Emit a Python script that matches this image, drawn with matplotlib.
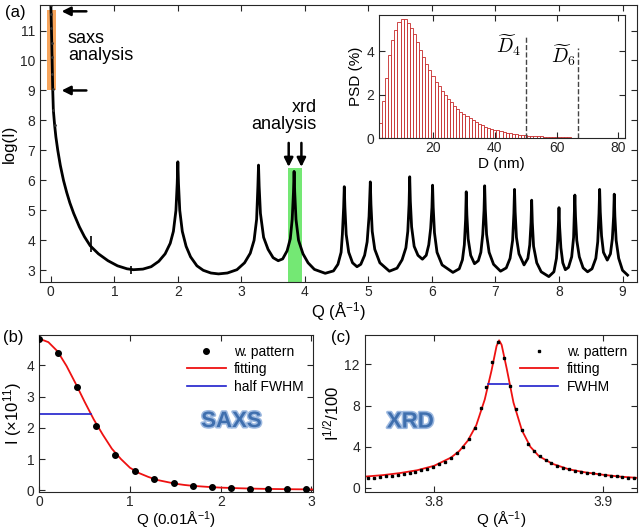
import matplotlib
matplotlib.use('Agg')
import matplotlib.pyplot as plt
import matplotlib.patheffects as pe

# ---- data ----
# (a) main pattern: Q (1/A) and log(I)
q_main = [0.000, 0.005, 0.010, 0.015, 0.020, 0.025, 0.030, 0.040, 0.060, 0.080,
          0.11, 0.15, 0.20, 0.25, 0.30, 0.36, 0.45, 0.53, 0.62, 0.75,
          0.90, 1.05, 1.20, 1.30, 1.45, 1.58, 1.70, 1.80, 1.88, 1.93,
          1.97, 1.99, 2.00, 2.01, 2.03, 2.07, 2.13, 2.20, 2.30, 2.40,
          2.52, 2.64, 2.78, 2.93, 3.05, 3.14, 3.20, 3.24, 3.26, 3.27,
          3.28, 3.30, 3.35, 3.42, 3.50, 3.58, 3.65, 3.72, 3.77, 3.80,
          3.82, 3.83, 3.84, 3.86, 3.90, 3.97, 4.05, 4.15, 4.32, 4.45,
          4.52, 4.57, 4.59, 4.61, 4.62, 4.63, 4.65, 4.69, 4.75, 4.82,
          4.88, 4.94, 4.98, 5.01, 5.03, 5.04, 5.06, 5.10, 5.18, 5.33,
          5.45, 5.53, 5.59, 5.62, 5.64, 5.65, 5.66, 5.68, 5.72, 5.78,
          5.85, 5.91, 5.95, 5.98, 6.00, 6.01, 6.02, 6.04, 6.08, 6.16,
          6.33, 6.43, 6.48, 6.51, 6.53, 6.54, 6.55, 6.57, 6.61, 6.67,
          6.73, 6.77, 6.80, 6.82, 6.83, 6.84, 6.86, 6.90, 6.97, 7.08,
          7.17, 7.23, 7.27, 7.29, 7.30, 7.31, 7.33, 7.37, 7.45, 7.51,
          7.54, 7.56, 7.57, 7.58, 7.60, 7.65, 7.72, 7.84, 7.92, 7.96,
          7.98, 7.99, 8.00, 8.01, 8.03, 8.06, 8.10, 8.15, 8.20, 8.23,
          8.24, 8.25, 8.26, 8.28, 8.32, 8.38, 8.45, 8.52, 8.58, 8.61,
          8.63, 8.64, 8.65, 8.67, 8.70, 8.76, 8.81, 8.84, 8.86, 8.87,
          8.88, 8.90, 8.94, 9.00, 9.08]
logI_main = [11.85, 11.55, 11.10, 10.60, 10.10, 9.55, 9.05, 8.35, 7.85, 7.45,
             7.00, 6.50, 6.00, 5.60, 5.25, 4.90, 4.45, 4.12, 3.82, 3.55,
             3.32, 3.15, 3.05, 3.02, 3.04, 3.12, 3.30, 3.55, 3.90, 4.30,
             5.00, 5.90, 6.62, 5.90, 5.00, 4.30, 3.80, 3.45, 3.15, 3.00,
             2.91, 2.88, 2.91, 3.02, 3.25, 3.57, 4.00, 4.70, 5.80, 6.51,
             5.80, 4.90, 4.10, 3.70, 3.42, 3.32, 3.38, 3.65, 4.05, 4.70,
             5.60, 6.30, 5.60, 4.70, 4.00, 3.55, 3.25, 3.03, 2.90, 2.98,
             3.20, 3.60, 4.20, 5.10, 5.79, 5.10, 4.20, 3.60, 3.25, 3.12,
             3.20, 3.50, 3.95, 4.80, 5.95, 5.20, 4.30, 3.70, 3.25, 2.97,
             3.07, 3.35, 3.75, 4.30, 5.20, 6.12, 5.30, 4.45, 3.80, 3.50,
             3.37, 3.50, 3.85, 4.40, 5.10, 5.84, 5.10, 4.25, 3.60, 3.18,
             2.93, 3.05, 3.35, 3.85, 4.70, 5.62, 4.85, 4.05, 3.50, 3.22,
             3.32, 3.60, 4.20, 5.00, 5.82, 5.05, 4.20, 3.60, 3.20, 2.97,
             3.08, 3.40, 4.00, 4.90, 5.70, 4.95, 4.10, 3.55, 3.18, 3.40,
             3.85, 4.60, 5.34, 4.60, 3.80, 3.25, 2.95, 2.79, 2.95, 3.40,
             4.00, 4.50, 5.09, 4.45, 3.75, 3.25, 3.02, 3.10, 3.45, 4.10,
             4.75, 5.51, 4.80, 4.00, 3.45, 3.08, 2.95, 3.05, 3.40, 3.95,
             4.90, 5.70, 4.95, 4.15, 3.60, 3.34, 3.55, 4.05, 4.80, 5.54,
             4.80, 4.00, 3.40, 3.00, 2.84]
mark_q = [0.63, 1.26]
mark_v = [3.88, 3.02]

# inset: particle size distribution
psd_d = list(range(3, 81))
psd_val = [0.71, 1.72, 2.75, 3.82, 4.52, 5.00, 5.36, 5.51, 5.47, 5.31,
           5.05, 4.78, 4.44, 4.05, 3.75, 3.42, 3.12, 2.85, 2.60, 2.38,
           2.17, 1.98, 1.80, 1.64, 1.49, 1.35, 1.22, 1.10, 1.00, 0.90,
           0.81, 0.73, 0.66, 0.59, 0.53, 0.48, 0.43, 0.39, 0.35, 0.31,
           0.28, 0.25, 0.22, 0.20, 0.18, 0.16, 0.14, 0.13, 0.11, 0.10,
           0.09, 0.08, 0.07, 0.065, 0.057, 0.05, 0.045, 0.04, 0.036, 0.032,
           0.029, 0.026, 0.023, 0.021, 0.019, 0.017, 0.015, 0.014, 0.012, 0.011,
           0.010, 0.009, 0.008, 0.007, 0.007, 0.006, 0.006, 0.005]
d_lines = [50, 67]
d_tops = [4.75, 4.15]

# (b) SAXS
q_saxs = [0.0, 0.21, 0.42, 0.63, 0.84, 1.05, 1.27, 1.48, 1.69, 1.90, 2.11, 2.32, 2.52, 2.73, 2.94]
i_saxs = [4.85, 4.40, 3.29, 2.06, 1.14, 0.61, 0.35, 0.22, 0.14, 0.09, 0.07, 0.05, 0.04, 0.035, 0.03]
q_saxs_fit = [0.0, 0.1, 0.2, 0.3, 0.4, 0.5, 0.6, 0.7, 0.8, 0.9, 1.0, 1.1, 1.2, 1.3, 1.4,
              1.5, 1.6, 1.7, 1.8, 1.9, 2.0, 2.2, 2.4, 2.6, 2.8, 3.0, 3.05]
i_saxs_fit = [4.85, 4.74, 4.45, 3.98, 3.42, 2.83, 2.27, 1.78, 1.33, 1.00, 0.72, 0.55, 0.43, 0.33, 0.27,
              0.21, 0.17, 0.14, 0.12, 0.10, 0.085, 0.065, 0.05, 0.04, 0.033, 0.028, 0.027]
saxs_half_q = [0.0, 0.575]
saxs_half_i = [2.43, 2.43]

# (c) XRD
q_xrd = [3.761, 3.7645, 3.768, 3.7715, 3.775, 3.7785, 3.782, 3.7855, 3.789, 3.7925,
         3.796, 3.7995, 3.803, 3.8065, 3.810, 3.8135, 3.817, 3.8205, 3.824, 3.8275,
         3.831, 3.8345, 3.838, 3.8415, 3.845, 3.8485, 3.852, 3.8555, 3.859, 3.8625,
         3.866, 3.8695, 3.873, 3.8765, 3.880, 3.8835, 3.887, 3.8905, 3.894, 3.8975,
         3.901, 3.9045, 3.908, 3.9115, 3.915, 3.9185]
i_xrd = [0.95, 1.00, 1.06, 1.12, 1.19, 1.27, 1.36, 1.46, 1.57, 1.70,
         1.86, 2.05, 2.28, 2.56, 2.92, 3.38, 3.98, 4.78, 5.85, 7.80,
         9.80, 12.2, 14.2, 12.6, 9.90, 7.70, 5.60, 4.30, 3.60, 3.10,
         2.70, 2.40, 2.15, 1.95, 1.80, 1.68, 1.58, 1.49, 1.41, 1.33,
         1.26, 1.19, 1.12, 1.06, 1.00, 0.95]
q_xrd_fit = [3.759, 3.77, 3.78, 3.79, 3.80, 3.81, 3.815, 3.82, 3.825, 3.83, 3.834, 3.837,
             3.8385, 3.84, 3.843, 3.847, 3.852, 3.857, 3.862, 3.87, 3.88, 3.89, 3.90, 3.91, 3.92]
i_xrd_fit = [1.10, 1.25, 1.45, 1.72, 2.15, 2.95, 3.60, 4.60, 6.10, 8.60, 11.4, 13.8,
             14.35, 13.9, 11.6, 8.30, 5.60, 4.00, 3.10, 2.35, 1.80, 1.50, 1.28, 1.10, 0.98]
xrd_fwhm_q = [3.8318, 3.8439]
xrd_fwhm_i = [10.15, 10.15]

# ---- style ----
plt.rcParams['font.family'] = ['Liberation Sans', 'DejaVu Sans']
plt.rcParams['mathtext.fontset'] = 'custom'
plt.rcParams['mathtext.rm'] = 'Liberation Sans'
plt.rcParams['mathtext.it'] = 'Liberation Sans:italic'
plt.rcParams['mathtext.bf'] = 'Liberation Sans:bold'
plt.rcParams['xtick.direction'] = 'in'
plt.rcParams['ytick.direction'] = 'in'
plt.rcParams['xtick.top'] = True
plt.rcParams['ytick.right'] = True
plt.rcParams['xtick.major.size'] = 4
plt.rcParams['ytick.major.size'] = 4
plt.rcParams['xtick.major.pad'] = 2.5
plt.rcParams['axes.linewidth'] = 0.8
plt.rcParams['axes.edgecolor'] = '#262626'
plt.rcParams['xtick.color'] = '#262626'
plt.rcParams['ytick.color'] = '#262626'
plt.rcParams['xtick.labelsize'] = 10
plt.rcParams['ytick.labelsize'] = 10

fig = plt.figure(figsize=(6.4, 5.3), dpi=100)

# ---- (a) ----
ax = fig.add_axes([0.0625, 0.4685, 0.933, 0.522])
ax.axvspan(-0.054, 0.084, ymin=(9.0 - 2.62) / (11.85 - 2.62), ymax=(11.7 - 2.62) / (11.85 - 2.62),
           color='#f7a55c', lw=0)
ax.axvspan(3.729, 3.956, ymin=0, ymax=(6.4 - 2.62) / (11.85 - 2.62), color='#74e874', lw=0)
ax.plot(q_main, logI_main, '-', color='k', lw=2.0)
ax.plot(q_main[:9], logI_main[:9], '.', color='#333333', ms=2)
ax.plot(mark_q[:1], mark_v[:1], '|', color='k', ms=12, mew=1.2)
ax.plot(mark_q[1:], mark_v[1:], '|', color='k', ms=6, mew=1.2)
ax.set_xlim(-0.17, 9.23)
ax.set_ylim(2.62, 11.85)
ax.set_xticks(range(0, 10))
ax.set_yticks(range(3, 12))
ax.set_xlabel('Q (Å$^{-1}$)', fontsize=12, labelpad=1)
ax.set_ylabel('log(I)', fontsize=12, labelpad=2)

arr = dict(arrowstyle='-|>', color='k', lw=1.8, mutation_scale=13, shrinkA=0, shrinkB=0)
ax.annotate('', xy=(0.17, 11.64), xytext=(0.56, 11.64), arrowprops=arr)
ax.annotate('', xy=(0.17, 9.0), xytext=(0.56, 9.0), arrowprops=arr)
ax.text(0.27, 10.45, 'saxs\nanalysis', fontsize=13, ha='left', va='center', linespacing=1.0)
ax.annotate('', xy=(3.745, 6.45), xytext=(3.745, 7.25), arrowprops=arr)
ax.annotate('', xy=(3.945, 6.45), xytext=(3.945, 7.25), arrowprops=arr)
ax.text(4.19, 8.15, 'xrd\nanalysis', fontsize=13, ha='right', va='center', linespacing=1.0)
fig.text(0.008, 0.977, '(a)', fontsize=12, va='center')

# inset
axi = fig.add_axes([0.592, 0.7396, 0.384, 0.232])
axi.bar(psd_d, psd_val, width=1.0, facecolor='white', edgecolor='#c62828', lw=0.6)
for d, t in zip(d_lines, d_tops):
    axi.plot([d, d], [0, t], '--', color='#444444', lw=1.0)
axi.text(44.5, 4.3, r'$\widetilde{D}_4$', math_fontfamily='cm', fontsize=14, ha='center', va='center')
axi.text(62.3, 3.8, r'$\widetilde{D}_6$', math_fontfamily='cm', fontsize=14, ha='center', va='center')
axi.set_xlim(2.5, 82)
axi.set_ylim(0, 5.67)
axi.set_xticks([20, 40, 60, 80])
axi.set_yticks([0, 2, 4])
axi.set_xlabel('D (nm)', fontsize=11, labelpad=1)
axi.set_ylabel('PSD (%)', fontsize=11, labelpad=2)

# ---- (b) ----
axb = fig.add_axes([0.0614, 0.0720, 0.428, 0.2960])
axb.plot(q_saxs, i_saxs, 'o', color='k', ms=4, label='w. pattern', zorder=3)
axb.plot(q_saxs_fit, i_saxs_fit, '-', color='#ee1111', lw=1.3, label='fitting', zorder=2)
axb.plot(saxs_half_q, saxs_half_i, '-', color='#1f1fcc', lw=1.2, label='half FWHM')
axb.set_xlim(0, 3.02)
axb.set_ylim(-0.05, 4.97)
axb.set_xticks([0, 1, 2, 3])
axb.set_yticks([0, 1, 2, 3, 4])
axb.set_xlabel('Q (0.01Å$^{-1}$)', fontsize=11, labelpad=0)
axb.set_ylabel('I (×10$^{11}$)', fontsize=12, labelpad=2)
axb.legend(loc='upper right', frameon=False, fontsize=10, handlelength=2.8,
           borderaxespad=0.3, labelspacing=0.25, handletextpad=0.6)
axb.text(2.12, 2.2, 'SAXS', fontsize=16, fontweight='bold', color='#3f6fae', ha='center', va='center',
         path_effects=[pe.Stroke(linewidth=2.2, foreground='#9db9e0'), pe.Normal()])
fig.text(0.005, 0.364, '(b)', fontsize=12, va='center')

# ---- (c) ----
axc = fig.add_axes([0.570, 0.0720, 0.425, 0.2960])
axc.plot(q_xrd, i_xrd, 's', color='k', ms=1.8, label='w. pattern', zorder=3)
axc.plot(q_xrd_fit, i_xrd_fit, '-', color='#ee1111', lw=1.3, label='fitting', zorder=2)
axc.plot(xrd_fwhm_q, xrd_fwhm_i, '-', color='#1f1fcc', lw=1.2, label='FWHM')
axc.set_xlim(3.759, 3.92)
axc.set_ylim(-0.38, 14.87)
axc.set_xticks([3.8, 3.9])
axc.set_yticks([0, 4, 8, 12])
axc.set_xlabel('Q (Å$^{-1}$)', fontsize=11, labelpad=0)
axc.set_ylabel('I$^{1/2}$/100', fontsize=12, labelpad=2)
axc.legend(loc='upper right', frameon=False, fontsize=10, handlelength=2.8,
           borderaxespad=0.3, labelspacing=0.25, handletextpad=0.6)
axc.text(3.786, 6.4, 'XRD', fontsize=16, fontweight='bold', color='#3f6fae', ha='center', va='center',
         path_effects=[pe.Stroke(linewidth=2.2, foreground='#9db9e0'), pe.Normal()])
fig.text(0.517, 0.364, '(c)', fontsize=12, va='center')

fig.savefig('out.png', dpi=100)
